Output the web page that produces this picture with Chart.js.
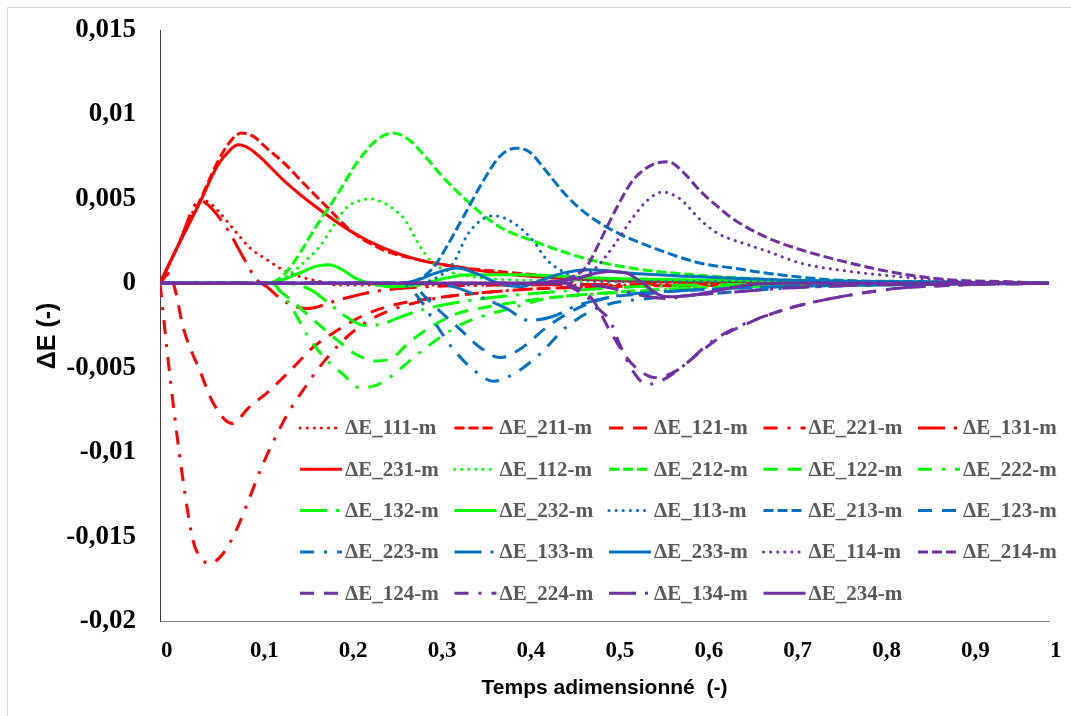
<!DOCTYPE html>
<html>
<head>
<meta charset="utf-8">
<script src="https://cdn.jsdelivr.net/npm/chart.js@4.4.0/dist/chart.umd.min.js"></script>
<style>
  html, body { margin: 0; padding: 0; background: #fff; }
  #wrap { position: relative; width: 1071px; height: 716px; }
</style>
</head>
<body>
<div id="wrap"><canvas id="chart" width="1071" height="716"></canvas></div>
<script>
// series: [temps adimensionne, deltaE]
var d111 = [[0,0],[0.02,0.0022],[0.035,0.0040],[0.045,0.0049],[0.055,0.0048],[0.065,0.0043],[0.086,0.0030],[0.101,0.0021],[0.12,0.0014],[0.138,0.0008],[0.157,0.0004],[0.18,0.0001],[0.2,-0.0001],[0.3,-0.0001],[0.5,-0.0001],[0.7,0],[1,0]];
var d211 = [[0,0],[0.02,0.0022],[0.045,0.0049],[0.064,0.0071],[0.079,0.0084],[0.092,0.0089],[0.105,0.0087],[0.12,0.0080],[0.14,0.0071],[0.16,0.0060],[0.19,0.0044],[0.215,0.0031],[0.25,0.0020],[0.29,0.0014],[0.33,0.0010],[0.38,0.0007],[0.45,0.0004],[0.55,0.0002],[0.7,0.0001],[1,0]];
var d121 = [[0,0],[0.011,0.0006],[0.018,-0.0006],[0.026,-0.0026],[0.045,-0.0052],[0.06,-0.0071],[0.081,-0.0083],[0.101,-0.0073],[0.12,-0.0065],[0.146,-0.0052],[0.172,-0.0038],[0.199,-0.0028],[0.233,-0.0018],[0.27,-0.0012],[0.32,-0.0008],[0.4,-0.0004],[0.5,-0.0002],[0.7,-0.0001],[1,0]];
var d221 = [[0,0],[0.004,-0.0020],[0.008,-0.0040],[0.017,-0.0081],[0.026,-0.0117],[0.037,-0.0152],[0.045,-0.0162],[0.056,-0.0166],[0.071,-0.0160],[0.086,-0.0146],[0.1,-0.0128],[0.115,-0.0108],[0.13,-0.0091],[0.145,-0.0076],[0.16,-0.0064],[0.176,-0.0052],[0.2,-0.0037],[0.221,-0.0027],[0.25,-0.0018],[0.3,-0.0010],[0.4,-0.0004],[0.5,-0.0002],[0.7,-0.0001],[1,0]];
var d131 = [[0,0],[0.02,0.0022],[0.045,0.0049],[0.055,0.0046],[0.077,0.0031],[0.094,0.0015],[0.109,0.0002],[0.12,-0.0002],[0.138,-0.0010],[0.165,-0.0015],[0.2,-0.0010],[0.24,-0.0005],[0.3,-0.0002],[0.4,-0.0001],[1,0]];
var d231 = [[0,0],[0.02,0.0022],[0.045,0.0048],[0.064,0.0069],[0.079,0.0079],[0.088,0.0082],[0.1,0.0080],[0.112,0.0075],[0.139,0.0061],[0.176,0.0045],[0.214,0.0031],[0.251,0.0021],[0.29,0.0014],[0.32,0.0011],[0.38,0.0006],[0.45,0.0003],[0.55,0.0001],[0.7,0],[1,0]];

var d112 = [[0,0],[0.125,0],[0.145,0.0005],[0.165,0.0014],[0.18,0.0022],[0.195,0.0034],[0.21,0.0045],[0.225,0.0049],[0.236,0.0050],[0.25,0.0048],[0.265,0.0043],[0.275,0.0038],[0.29,0.0024],[0.305,0.0013],[0.32,0.0008],[0.35,0.0004],[0.4,0.0002],[0.6,0.0001],[1,0]];
var d212 = [[0,0],[0.12,0],[0.135,0.0003],[0.15,0.0012],[0.176,0.0034],[0.2,0.0053],[0.221,0.0071],[0.244,0.0085],[0.262,0.0089],[0.28,0.0085],[0.3,0.0074],[0.318,0.0063],[0.345,0.0049],[0.38,0.0034],[0.42,0.0025],[0.476,0.0015],[0.53,0.0009],[0.6,0.0005],[0.7,0.0002],[0.8,0.0001],[1,0]];
var d122 = [[0,0],[0.12,0],[0.138,-0.0006],[0.169,-0.0020],[0.2,-0.0034],[0.22,-0.0042],[0.244,-0.0046],[0.262,-0.0044],[0.278,-0.0036],[0.304,-0.0026],[0.334,-0.0018],[0.368,-0.0014],[0.416,-0.0010],[0.47,-0.0007],[0.55,-0.0004],[0.65,-0.0002],[0.8,-0.0001],[1,0]];
var d222 = [[0,0],[0.125,0],[0.14,-0.0008],[0.15,-0.0016],[0.165,-0.0030],[0.183,-0.0043],[0.206,-0.0054],[0.225,-0.0062],[0.245,-0.0060],[0.265,-0.0053],[0.285,-0.0044],[0.315,-0.0032],[0.34,-0.0024],[0.4,-0.0014],[0.435,-0.0009],[0.5,-0.0006],[0.6,-0.0003],[0.75,-0.0001],[1,0]];
var d132 = [[0,0],[0.14,0],[0.17,-0.0004],[0.19,-0.0012],[0.21,-0.0020],[0.23,-0.0025],[0.25,-0.0024],[0.27,-0.0020],[0.3,-0.0015],[0.35,-0.0010],[0.4,-0.0007],[0.5,-0.0003],[0.6,-0.0001],[1,0]];
var d232 = [[0,0],[0.12,0],[0.157,0.0006],[0.175,0.0010],[0.19,0.0011],[0.205,0.0008],[0.22,0.0003],[0.236,0],[0.26,-0.0002],[0.29,-0.0001],[0.32,0.0003],[0.35,0.0005],[0.4,0.0005],[0.5,0.0003],[0.6,0.0002],[0.8,0.0001],[1,0]];

var d113 = [[0,0],[0.28,0],[0.31,0.0003],[0.33,0.0012],[0.345,0.0028],[0.36,0.0037],[0.375,0.0040],[0.397,0.0036],[0.42,0.0025],[0.435,0.0014],[0.457,0.0006],[0.48,0.0002],[0.5,0.0001],[0.6,0.0001],[1,0]];
var d213 = [[0,0],[0.27,0],[0.29,0.0002],[0.307,0.0009],[0.325,0.0024],[0.345,0.0043],[0.364,0.0061],[0.382,0.0075],[0.4,0.0080],[0.415,0.0078],[0.435,0.0066],[0.457,0.0052],[0.48,0.0041],[0.514,0.0030],[0.55,0.0022],[0.607,0.0012],[0.645,0.0009],[0.683,0.0006],[0.757,0.0002],[0.85,0.0001],[1,0]];
var d123 = [[0,0],[0.28,0],[0.3,-0.0009],[0.32,-0.0019],[0.337,-0.0027],[0.36,-0.0038],[0.382,-0.0044],[0.405,-0.0039],[0.435,-0.0026],[0.465,-0.0016],[0.5,-0.0009],[0.55,-0.0006],[0.6,-0.0004],[0.7,-0.0002],[0.8,-0.0001],[1,0]];
var d223 = [[0,0],[0.27,0],[0.29,-0.0008],[0.31,-0.0024],[0.33,-0.0039],[0.352,-0.0051],[0.375,-0.0058],[0.4,-0.0053],[0.427,-0.0042],[0.457,-0.0026],[0.495,-0.0014],[0.55,-0.0009],[0.6,-0.0007],[0.7,-0.0003],[0.8,-0.0001],[1,0]];
var d133 = [[0,0],[0.3,0],[0.33,-0.0002],[0.36,-0.0008],[0.39,-0.0015],[0.415,-0.0022],[0.44,-0.0020],[0.47,-0.0013],[0.52,-0.0007],[0.6,-0.0004],[0.7,-0.0002],[1,0]];
var d233 = [[0,0],[0.27,0],[0.29,0.0002],[0.31,0.0006],[0.334,0.0009],[0.355,0.0006],[0.38,0],[0.405,-0.0002],[0.43,0.0002],[0.453,0.0006],[0.484,0.0008],[0.53,0.0006],[0.6,0.0004],[0.7,0.0002],[0.8,0.0001],[1,0]];

var d114 = [[0,0],[0.44,0],[0.47,0.0002],[0.49,0.0009],[0.51,0.0022],[0.532,0.0039],[0.548,0.0049],[0.565,0.0054],[0.585,0.0050],[0.607,0.0038],[0.626,0.0030],[0.66,0.0023],[0.683,0.0019],[0.72,0.0012],[0.776,0.0007],[0.83,0.0004],[0.9,0.0001],[1,0]];
var d214 = [[0,0],[0.44,0],[0.46,0.0003],[0.48,0.0010],[0.495,0.0025],[0.514,0.0045],[0.532,0.0061],[0.553,0.0070],[0.571,0.0072],[0.59,0.0065],[0.607,0.0055],[0.626,0.0046],[0.645,0.0038],[0.683,0.0027],[0.72,0.0020],[0.776,0.0012],[0.83,0.0006],[0.89,0.0002],[0.95,0.0001],[1,0]];
var d124 = [[0,0],[0.45,0],[0.47,-0.0003],[0.487,-0.0010],[0.506,-0.0028],[0.525,-0.0044],[0.54,-0.0052],[0.559,-0.0056],[0.58,-0.0052],[0.607,-0.0041],[0.63,-0.0032],[0.66,-0.0024],[0.683,-0.0019],[0.72,-0.0013],[0.776,-0.0007],[0.83,-0.0003],[0.9,-0.0001],[1,0]];
var d224 = [[0,0],[0.44,0],[0.46,-0.0002],[0.48,-0.0008],[0.495,-0.0016],[0.506,-0.0022],[0.517,-0.0036],[0.532,-0.0052],[0.548,-0.0060],[0.57,-0.0056],[0.593,-0.0047],[0.619,-0.0035],[0.645,-0.0027],[0.683,-0.0019],[0.72,-0.0013],[0.776,-0.0007],[0.83,-0.0003],[0.9,-0.0001],[1,0]];
var d134 = [[0,0],[0.46,0],[0.5,-0.0002],[0.54,-0.0007],[0.57,-0.0009],[0.6,-0.0007],[0.65,-0.0005],[0.7,-0.0003],[0.8,-0.0001],[1,0]];
var d234 = [[0,0],[0.42,0],[0.44,0.0001],[0.469,0.0003],[0.49,0.0006],[0.506,0.0007],[0.525,0.0006],[0.543,0],[0.562,-0.0007],[0.577,-0.0008],[0.6,-0.0007],[0.63,-0.0004],[0.66,-0.0001],[0.7,0],[1,0]];

var names = ["111", "211", "121", "221", "131", "231",
             "112", "212", "122", "222", "132", "232",
             "113", "213", "123", "223", "133", "233",
             "114", "214", "124", "224", "134", "234"];
var series = [d111, d211, d121, d221, d131, d231,
              d112, d212, d122, d222, d132, d232,
              d113, d213, d123, d223, d133, d233,
              d114, d214, d124, d224, d134, d234];

var colors = { "1": "#ff0000", "2": "#00ff00", "3": "#0070c0", "4": "#7030a0" };
// line style from the first two digits
var dashes = {
  "11": [0.1, 7],
  "21": [10, 4],
  "12": [14, 10],
  "22": [14, 10, 3, 10],
  "13": [27, 9, 3, 9],
  "23": []
};

function fmt(v) {
  return String(+v.toFixed(3)).replace(".", ",");
}

var datasets = names.map(function(n, i) {
  var key = n.substring(0, 2);
  return {
    label: "\u0394E_" + n + "-m",
    data: series[i].map(function(p) { return { x: p[0], y: p[1] }; }),
    borderColor: colors[n.charAt(2)],
    borderWidth: 3,
    borderDash: dashes[key],
    borderCapStyle: key === "11" ? "round" : "butt",
    pointRadius: 0,
    fill: false,
    cubicInterpolationMode: "monotone",
    order: names.length - 1 - i
  };
});

var frame = {
  id: "frame",
  beforeDraw: function(chart) {
    var ctx = chart.ctx;
    ctx.save();
    ctx.fillStyle = "#fff";
    ctx.fillRect(0, 0, chart.width, chart.height);
    ctx.strokeStyle = "#d9d9d9";
    ctx.lineWidth = 1;
    ctx.beginPath();
    ctx.moveTo(7.5, chart.height);
    ctx.lineTo(7.5, 7.5);
    ctx.lineTo(chart.width, 7.5);
    ctx.stroke();
    ctx.restore();
  }
};

var legendBox = {
  id: "legendBox",
  afterDraw: function(chart) {
    var ctx = chart.ctx;
    ctx.save();
    ctx.font = 'bold 21px "Liberation Serif"';
    ctx.textBaseline = "middle";
    chart.data.datasets.forEach(function(ds, i) {
      var col = i % 5, row = Math.floor(i / 5);
      var x = 300 + col * 154.5, y = 428 + row * 41.3;
      ctx.save();
      ctx.strokeStyle = ds.borderColor;
      ctx.lineWidth = 3;
      ctx.setLineDash(ds.borderDash);
      ctx.lineCap = ds.borderCapStyle;
      ctx.beginPath();
      ctx.moveTo(x, y);
      ctx.lineTo(x + 42, y);
      ctx.stroke();
      ctx.restore();
      ctx.fillStyle = "#595959";
      ctx.fillText(ds.label, x + 45, y + 1);
    });
    ctx.restore();
  }
};

new Chart(document.getElementById("chart"), {
  type: "line",
  data: { datasets: datasets },
  options: {
    responsive: false,
    animation: false,
    devicePixelRatio: 1,
    layout: { padding: { top: 30, right: 22, bottom: 0, left: 0 } },
    plugins: {
      legend: { display: false },
      tooltip: { enabled: false }
    },
    scales: {
      x: {
        type: "linear",
        min: 0,
        max: 1,
        afterFit: function(s) { s.height = 95; s.paddingLeft = 0; s.paddingRight = 0; },
        grid: { display: false, drawTicks: false },
        border: { display: true, color: "#868686", width: 1 },
        ticks: {
          stepSize: 0.1,
          align: "start",
          labelOffset: 1,
          padding: 16,
          color: "#000",
          font: { family: "Liberation Serif", size: 23, weight: "bold" },
          callback: function(v) { return fmt(v); }
        },
        title: {
          display: true,
          text: "Temps adimensionn\u00e9  (-)",
          color: "#000",
          font: { family: "Liberation Sans", size: 21, weight: "bold" },
          padding: { top: 0, bottom: 15 }
        }
      },
      y: {
        min: -0.02,
        max: 0.015,
        afterFit: function(s) { s.width = 160; s.paddingTop = 0; s.paddingBottom = 0; },
        grid: { display: false, drawTicks: false },
        border: { display: true, color: "#404040", width: 1 },
        ticks: {
          stepSize: 0.005,
          padding: 24,
          color: "#000",
          font: { family: "Liberation Serif", size: 27, weight: "bold" },
          callback: function(v) { return fmt(v); }
        },
        title: {
          display: true,
          text: "\u0394E (-)   ",
          color: "#000",
          font: { family: "Liberation Sans", size: 25, weight: "bold" },
          padding: { top: 33, bottom: 0 }
        }
      }
    }
  },
  plugins: [frame, legendBox]
});
</script>
</body>
</html>
